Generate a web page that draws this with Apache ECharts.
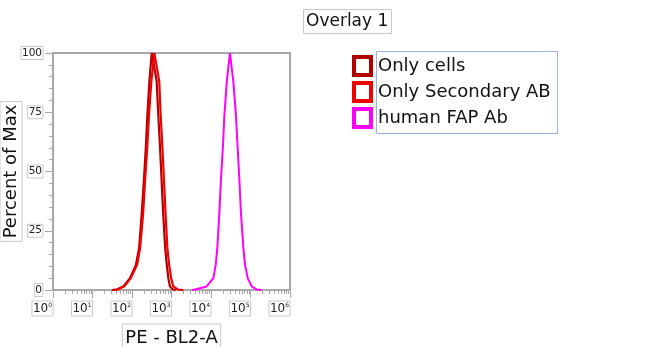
<!DOCTYPE html>
<html>
<head>
<meta charset="utf-8">
<script src="https://cdn.jsdelivr.net/npm/echarts@6/dist/echarts.min.js"></script>
<style>html,body{margin:0;padding:0;background:#fff}#c{width:650px;height:347px}</style>
</head>
<body>
<div id="c"></div>
<script>
// x values are log10 of PE - BL2-A fluorescence, y values percent of max
const seriesNames = ['Only cells', 'Only Secondary AB', 'human FAP Ab'];
const onlyCellsX = [1.49, 1.61, 1.78, 1.95, 2.10, 2.18, 2.245, 2.30, 2.35, 2.39, 2.44, 2.50, 2.625, 2.665, 2.71, 2.75, 2.79, 2.84, 2.88, 2.92, 2.96, 3.04, 3.11];
const onlyCellsY = [0, 0.2, 1.5, 5, 10.7, 17.7, 32, 46, 60, 74, 88, 100, 88, 74, 60, 46, 32, 17.7, 10.7, 5, 1.5, 0.2, 0];
const secondaryX = [1.52, 1.63, 1.80, 1.97, 2.13, 2.205, 2.28, 2.33, 2.385, 2.43, 2.49, 2.565, 2.69, 2.725, 2.77, 2.81, 2.85, 2.895, 2.94, 2.99, 3.045, 3.16, 3.30];
const secondaryY = [0, 0.2, 1.5, 5, 10.7, 17.7, 32, 46, 60, 74, 88, 100, 88, 74, 60, 46, 32, 17.7, 10.7, 5, 1.5, 0.2, 0];
const fapX = [3.52, 3.595, 3.89, 4.06, 4.12, 4.16, 4.21, 4.25, 4.30, 4.34, 4.40, 4.48, 4.565, 4.63, 4.675, 4.72, 4.76, 4.82, 4.86, 4.93, 5.03, 5.16, 5.28];
const fapY = [0, 0.2, 1.5, 5, 10.7, 17.7, 32, 46, 60, 74, 88, 100, 88, 74, 60, 46, 32, 17.7, 10.7, 5, 1.5, 0.2, 0];
const decades = [0, 1, 2, 3, 4, 5];
const minorMultipliers = [2, 3, 4, 5, 6, 7, 8, 9];
const colors = ['#b20000', '#ee0000', '#ff00ff'];

const pair = (xs, ys) => xs.map((x, i) => [x, ys[i]]);
const minorTicks = [];
decades.forEach(d => minorMultipliers.forEach(k => minorTicks.push([d + Math.log10(k), 0])));

const FONT = 'DejaVu Sans';
const boxGray = '#c9c9c9';
const axisGray = '#a8a8a8';

const chart = echarts.init(document.getElementById('c'));
chart.setOption({
  animation: false,
  textStyle: { fontFamily: FONT },
  title: {
    text: 'Overlay 1', left: 303, top: 9,
    padding: [4, 3, 4, 3], borderColor: boxGray, borderWidth: 1,
    textStyle: { fontFamily: FONT, fontSize: 17, fontWeight: 'normal', color: '#111' }
  },
  legend: {
    orient: 'vertical', left: 352, top: 55, padding: 0,
    itemWidth: 21, itemHeight: 22, itemGap: 4,
    icon: 'path://M0,0H21V22H0Z M4,4V18H17V4Z',
    itemStyle: { borderWidth: 0 },
    data: seriesNames,
    textStyle: { fontFamily: FONT, fontSize: 18, color: '#111', padding: [0, 0, 0, 0] }
  },
  graphic: [{
    type: 'rect', shape: { x: 376.5, y: 51.5, width: 181, height: 82 },
    style: { fill: 'none', stroke: '#9fb2dc', lineWidth: 1 }, z: 100
  }],
  grid: { left: 53, right: 360, top: 53, bottom: 57, containLabel: false, outerBoundsMode: 'none', show: true, borderColor: axisGray, borderWidth: 2 },
  xAxis: {
    type: 'value', min: 0, max: 6, interval: 1,
    name: 'PE - BL2-A', nameLocation: 'middle', nameGap: 34,
    nameTextStyle: { fontFamily: FONT, fontSize: 18, color: '#111', borderColor: boxGray, borderWidth: 1, padding: [5, 3, 5, 3] },
    axisLine: { lineStyle: { color: axisGray, width: 2 } },
    axisTick: { length: 8, lineStyle: { color: axisGray, width: 1 } },
    splitLine: { show: false },
    axisLabel: {
      margin: 11, align: 'right',
      formatter: v => '{a|10}{b|' + v + '}',
      borderColor: boxGray, borderWidth: 1, padding: [1, 1, 1, 1],
      rich: {
        a: { fontFamily: FONT, fontSize: 12, color: '#222' },
        b: { fontFamily: FONT, fontSize: 6, color: '#222', padding: [0, 0, 7, 0] }
      }
    }
  },
  yAxis: {
    type: 'value', min: 0, max: 100, interval: 25,
    name: 'Percent of Max', nameLocation: 'middle', nameGap: 31, nameMoveOverlap: false,
    nameTextStyle: { fontFamily: FONT, fontSize: 18, color: '#111', borderColor: boxGray, borderWidth: 1, padding: [2, 3, 2, 3] },
    axisLine: { show: true, lineStyle: { color: axisGray, width: 2 } },
    axisTick: { show: true, length: 8, lineStyle: { color: axisGray, width: 1 } },
    minorTick: { show: true, splitNumber: 5, length: 4, lineStyle: { color: axisGray, width: 1 } },
    splitLine: { show: false },
    axisLabel: {
      margin: 10, fontFamily: FONT, fontSize: 10.5, color: '#222',
      borderColor: boxGray, borderWidth: 1, padding: [1, 1, 1, 1]
    }
  },
  series: [
    { name: seriesNames[0], type: 'line', data: pair(onlyCellsX, onlyCellsY), showSymbol: false, color: colors[0], lineStyle: { width: 2.2 }, z: 3 },
    { name: seriesNames[1], type: 'line', data: pair(secondaryX, secondaryY), showSymbol: false, color: colors[1], lineStyle: { width: 2.2 }, z: 3 },
    { name: seriesNames[2], type: 'line', data: pair(fapX, fapY), showSymbol: false, color: colors[2], lineStyle: { width: 2 }, z: 3 },
    {
      name: 'minorTicks', type: 'custom', data: minorTicks, clip: false, silent: true, z: 1,
      renderItem: (params, api) => {
        const p = api.coord([api.value(0), 0]);
        return { type: 'line', shape: { x1: Math.round(p[0]) + 0.5, y1: p[1], x2: Math.round(p[0]) + 0.5, y2: p[1] + 4 }, style: { stroke: axisGray, lineWidth: 1 } };
      }
    }
  ]
});
</script>
</body>
</html>
